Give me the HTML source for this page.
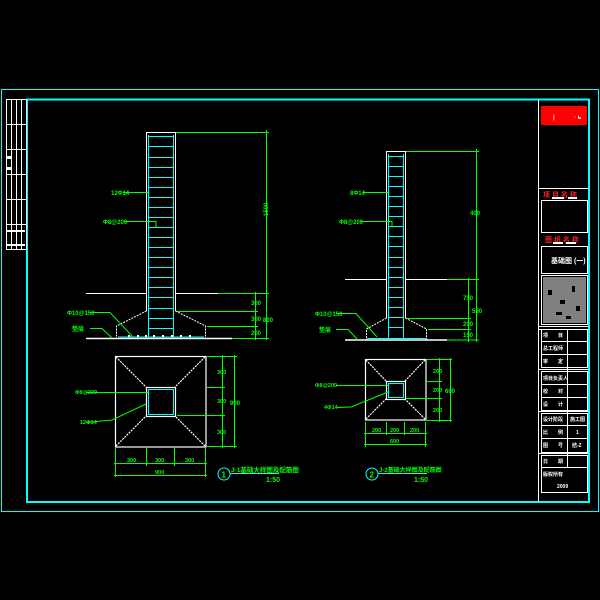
<!DOCTYPE html>
<html><head><meta charset="utf-8"><style>
html,body{margin:0;padding:0;background:#000;width:600px;height:600px;overflow:hidden}
svg{display:block}
text{font-family:"Liberation Sans","Noto Sans CJK SC",sans-serif;font-weight:bold}
</style></head><body>
<svg width="600" height="600" viewBox="0 0 600 600" xmlns="http://www.w3.org/2000/svg">
<rect width="600" height="600" fill="#000"/>
<!-- frames -->
<rect x="1.5" y="89.5" width="597" height="422" fill="none" stroke="#00ffff" stroke-width="1"/>
<rect x="27" y="99.5" width="562" height="402.5" fill="none" stroke="#00ffff" stroke-width="2"/>
<!-- left stamp table -->
<g stroke="#fff" stroke-width="1" fill="none">
<rect x="6.5" y="99.5" width="20" height="150"/>
<line x1="11.5" y1="99.5" x2="11.5" y2="249.5"/><line x1="16.5" y1="99.5" x2="16.5" y2="249.5"/><line x1="21.5" y1="99.5" x2="21.5" y2="249.5"/>
<line x1="6.5" y1="124.5" x2="26.5" y2="124.5"/><line x1="6.5" y1="149.5" x2="26.5" y2="149.5"/><line x1="6.5" y1="174.5" x2="26.5" y2="174.5"/><line x1="6.5" y1="199.5" x2="26.5" y2="199.5"/><line x1="6.5" y1="224.5" x2="26.5" y2="224.5"/>
</g>
<g fill="#fff"><rect x="7" y="156" width="4" height="3"/><rect x="7" y="167" width="4" height="3"/><rect x="7" y="230" width="18" height="2"/><rect x="7" y="244" width="18" height="2"/></g>

<!-- title block -->
<g stroke="#fff" stroke-width="1" fill="none">
<line x1="538.5" y1="99.5" x2="538.5" y2="502"/>
<line x1="538.5" y1="188.5" x2="589" y2="188.5"/>
<rect x="541.5" y="200.5" width="46" height="32"/>
<rect x="541.5" y="246.5" width="46" height="27"/>
<rect x="541.5" y="275.5" width="46" height="49"/>
<line x1="538.5" y1="326.5" x2="589" y2="326.5"/>
<line x1="538.5" y1="329.5" x2="589" y2="329.5"/>
<rect x="541.5" y="329.5" width="46" height="38"/>
<line x1="541.5" y1="341.5" x2="587.5" y2="341.5"/><line x1="541.5" y1="354.5" x2="587.5" y2="354.5"/>
<line x1="538.5" y1="369.5" x2="589" y2="369.5"/>
<rect x="541.5" y="371.5" width="46" height="39"/>
<line x1="541.5" y1="384.5" x2="587.5" y2="384.5"/><line x1="541.5" y1="397.5" x2="587.5" y2="397.5"/>
<line x1="538.5" y1="411.5" x2="589" y2="411.5"/>
<rect x="541.5" y="413.5" width="46" height="39"/>
<line x1="541.5" y1="425.5" x2="587.5" y2="425.5"/><line x1="541.5" y1="438.5" x2="587.5" y2="438.5"/>
<line x1="538.5" y1="453.5" x2="589" y2="453.5"/>
<rect x="541.5" y="455.5" width="46" height="37"/>
<line x1="541.5" y1="467.5" x2="587.5" y2="467.5"/>
<line x1="567.5" y1="329.5" x2="567.5" y2="467.5"/>
</g>
<rect x="541" y="106" width="46" height="19" fill="#ff0000"/>
<g fill="#fff" font-size="6"><text x="553" y="119">|</text><text x="574" y="119">· ь</text></g>
<text x="543" y="197" font-size="7" fill="#ff2020">项 目 名 称</text>
<rect x="552" y="197" width="12" height="2" fill="#fff"/><rect x="568" y="197" width="9" height="2" fill="#fff"/>
<text x="545" y="242" font-size="7" fill="#ff2020">图 纸 名 称</text>
<rect x="553" y="242" width="10" height="2" fill="#fff"/><rect x="566" y="242" width="10" height="2" fill="#fff"/>
<text x="551" y="263" font-size="7" fill="#fff">基础图 (一)</text>
<rect x="543" y="277" width="43" height="46" fill="#808080"/>
<g fill="#000"><rect x="548" y="290" width="4" height="5"/><rect x="560" y="300" width="5" height="4"/><rect x="572" y="286" width="3" height="6"/><rect x="556" y="312" width="6" height="3"/><rect x="576" y="306" width="4" height="5"/><rect x="566" y="316" width="5" height="3"/></g>
<g fill="#fff" font-size="5">
<text x="543" y="337">项　　目</text><text x="543" y="350">总工程师</text><text x="543" y="363">审　　定</text>
<text x="543" y="380">项目负责人</text><text x="543" y="393">校　　对</text><text x="543" y="406">设　　计</text>
<text x="543" y="421">设计阶段</text><text x="543" y="434">比　　例</text><text x="543" y="447">图　　号</text>
<text x="570" y="421">施工图</text><text x="576" y="434">1</text><text x="572" y="447">结-2</text>
<text x="543" y="463">日　　期</text><text x="543" y="476">版权所有</text><text x="557" y="488">2009</text>
</g>

<!-- LEFT ELEVATION -->
<g stroke="#fff" stroke-width="1" fill="none">
<polyline points="146.5,311 146.5,132.5 175.5,132.5 175.5,311"/>
<line x1="86" y1="293.5" x2="146" y2="293.5"/><line x1="176" y1="293.5" x2="218" y2="293.5"/>
<polyline points="146.5,311 116.5,326 116.5,338" stroke-dasharray="2,1"/>
<polyline points="175.5,311 205.5,326 205.5,338" stroke-dasharray="2,1"/>
<line x1="86" y1="338.5" x2="232" y2="338.5" stroke-width="1.5"/>
</g>
<g stroke="#00ffff" stroke-width="1" fill="none">
<line x1="148.5" y1="135" x2="148.5" y2="337"/><line x1="173.5" y1="135" x2="173.5" y2="337"/>
<line x1="118" y1="337" x2="204" y2="337"/>
</g>
<g stroke="#00ffff" stroke-width="1">
<line x1="149" y1="136.5" x2="173" y2="136.5"/><line x1="149" y1="146.5" x2="173" y2="146.5"/><line x1="149" y1="157.5" x2="173" y2="157.5"/><line x1="149" y1="167.5" x2="173" y2="167.5"/><line x1="149" y1="177.5" x2="173" y2="177.5"/><line x1="149" y1="187.5" x2="173" y2="187.5"/><line x1="149" y1="197.5" x2="173" y2="197.5"/><line x1="149" y1="207.5" x2="173" y2="207.5"/><line x1="149" y1="217.5" x2="173" y2="217.5"/><line x1="149" y1="227.5" x2="173" y2="227.5"/><line x1="149" y1="237.5" x2="173" y2="237.5"/><line x1="149" y1="247.5" x2="173" y2="247.5"/><line x1="149" y1="257.5" x2="173" y2="257.5"/><line x1="149" y1="267.5" x2="173" y2="267.5"/><line x1="149" y1="277.5" x2="173" y2="277.5"/><line x1="149" y1="287.5" x2="173" y2="287.5"/><line x1="149" y1="297.5" x2="173" y2="297.5"/><line x1="149" y1="308.5" x2="173" y2="308.5"/><line x1="149" y1="318.5" x2="173" y2="318.5"/><line x1="149" y1="328.5" x2="173" y2="328.5"/>
</g>
<g fill="#fff"><rect x="128" y="335" width="2" height="2"/><rect x="137" y="335" width="2" height="2"/><rect x="145" y="335" width="2" height="2"/><rect x="153" y="335" width="2" height="2"/><rect x="162" y="335" width="2" height="2"/><rect x="171" y="335" width="2" height="2"/><rect x="180" y="335" width="2" height="2"/><rect x="189" y="335" width="2" height="2"/></g>
<g stroke="#00ff00" stroke-width="1" fill="none">
<line x1="176" y1="132.5" x2="269" y2="132.5"/><line x1="218" y1="293.5" x2="269" y2="293.5"/>
<line x1="177" y1="311.5" x2="258" y2="311.5"/><line x1="207" y1="326.5" x2="258" y2="326.5"/>
<line x1="232" y1="338.5" x2="269" y2="338.5"/>
<line x1="266.5" y1="130" x2="266.5" y2="340"/><line x1="255.5" y1="292" x2="255.5" y2="340"/>
<line x1="123" y1="192.5" x2="148" y2="192.5"/>
<polyline points="125,221.5 156,221.5 156,227"/>
<polyline points="90,312.5 110,312.5 133,337"/>
<polyline points="90,328.5 102,328.5 112,338"/>
</g>
<g fill="#00ff00" font-size="6">
<text x="111" y="195">12Φ14</text><text x="103" y="224">Φ8@200</text>
<text x="67" y="315">Φ10@150</text><text x="72" y="331">垫层</text>
<text x="262" y="216" transform="rotate(-90 265 213)">1500</text>
<text x="251" y="305">300</text><text x="251" y="321">300</text><text x="251" y="335">200</text>
<text x="263" y="322">800</text>
</g>

<!-- RIGHT ELEVATION -->
<g stroke="#fff" stroke-width="1" fill="none">
<polyline points="386.5,318 386.5,151.5 405.5,151.5 405.5,318"/>
<line x1="345" y1="279.5" x2="386" y2="279.5"/><line x1="406" y1="279.5" x2="447" y2="279.5"/>
<polyline points="386.5,318 366.5,329 366.5,340" stroke-dasharray="2,1"/>
<polyline points="405.5,318 426.5,329 426.5,340" stroke-dasharray="2,1"/>
<line x1="345" y1="340" x2="447" y2="340" stroke-width="1.5"/>
</g>
<g stroke="#00ffff" stroke-width="1">
<line x1="388.5" y1="154" x2="388.5" y2="339"/><line x1="403.5" y1="154" x2="403.5" y2="339"/>
<line x1="367" y1="338.5" x2="426" y2="338.5"/>
<line x1="389" y1="156.5" x2="403" y2="156.5"/><line x1="389" y1="166.5" x2="403" y2="166.5"/><line x1="389" y1="176.5" x2="403" y2="176.5"/><line x1="389" y1="186.5" x2="403" y2="186.5"/><line x1="389" y1="196.5" x2="403" y2="196.5"/><line x1="389" y1="206.5" x2="403" y2="206.5"/><line x1="389" y1="216.5" x2="403" y2="216.5"/><line x1="389" y1="226.5" x2="403" y2="226.5"/><line x1="389" y1="236.5" x2="403" y2="236.5"/><line x1="389" y1="246.5" x2="403" y2="246.5"/><line x1="389" y1="257.5" x2="403" y2="257.5"/><line x1="389" y1="267.5" x2="403" y2="267.5"/><line x1="389" y1="277.5" x2="403" y2="277.5"/><line x1="389" y1="287.5" x2="403" y2="287.5"/><line x1="389" y1="297.5" x2="403" y2="297.5"/><line x1="389" y1="307.5" x2="403" y2="307.5"/><line x1="389" y1="317.5" x2="403" y2="317.5"/><line x1="389" y1="327.5" x2="403" y2="327.5"/>
</g>
<g stroke="#00ff00" stroke-width="1" fill="none">
<line x1="406" y1="151.5" x2="479" y2="151.5"/><line x1="447" y1="279.5" x2="479" y2="279.5"/>
<line x1="407" y1="318.5" x2="471" y2="318.5"/><line x1="428" y1="329.5" x2="471" y2="329.5"/>
<line x1="447" y1="340" x2="479" y2="340"/>
<line x1="476.5" y1="149" x2="476.5" y2="342"/><line x1="468.5" y1="278" x2="468.5" y2="342"/>
<line x1="363" y1="192.5" x2="388" y2="192.5"/>
<polyline points="361,221.5 392,221.5 392,227"/>
<polyline points="336,313.5 356,313.5 377,337"/>
<polyline points="336,329.5 348,329.5 358,340"/>
</g>
<g fill="#00ff00" font-size="6">
<text x="350" y="195">8Φ14</text><text x="339" y="224">Φ8@200</text>
<text x="315" y="316">Φ10@150</text><text x="319" y="332">垫层</text>
<text x="470" y="215">400</text><text x="463" y="300">750</text>
<text x="463" y="326">200</text><text x="463" y="337">150</text><text x="472" y="313">550</text>
</g>

<!-- LEFT PLAN -->
<g stroke="#fff" stroke-width="1.2" fill="none">
<rect x="115.5" y="356.5" width="90.5" height="90.5"/>
<rect x="146.5" y="387.5" width="29" height="29"/>
<line x1="116" y1="357" x2="146" y2="387" stroke-dasharray="2,1"/><line x1="205" y1="357" x2="175" y2="387" stroke-dasharray="2,1"/>
<line x1="116" y1="446" x2="146" y2="416" stroke-dasharray="2,1"/><line x1="205" y1="446" x2="175" y2="416" stroke-dasharray="2,1"/>
</g>
<rect x="148.5" y="389.5" width="25" height="25" fill="none" stroke="#00ffff" stroke-width="1"/>
<g stroke="#00ff00" stroke-width="1" fill="none">
<line x1="207" y1="356.5" x2="237" y2="356.5"/><line x1="207" y1="387.5" x2="225" y2="387.5"/><line x1="177" y1="415.5" x2="225" y2="415.5"/><line x1="207" y1="446.5" x2="237" y2="446.5"/>
<line x1="222.5" y1="355" x2="222.5" y2="448"/><line x1="234.5" y1="355" x2="234.5" y2="448"/>
<line x1="115.5" y1="448" x2="115.5" y2="477"/><line x1="146.5" y1="448" x2="146.5" y2="466"/><line x1="174.5" y1="448" x2="174.5" y2="466"/><line x1="205.5" y1="448" x2="205.5" y2="477"/>
<line x1="114" y1="463.5" x2="207" y2="463.5"/><line x1="114" y1="475.5" x2="207" y2="475.5"/>
<line x1="86" y1="392.5" x2="148" y2="392.5"/>
<polyline points="86,422.5 112,420 146,404"/>
</g>
<g fill="#00ff00" font-size="5.5">
<text x="75" y="394">Φ8@200</text><text x="80" y="424">12Φ14</text>
<text x="217" y="374">300</text><text x="217" y="403">300</text><text x="217" y="434">300</text>
<text x="230" y="405" font-size="6">900</text>
<text x="127" y="462">300</text><text x="155" y="462">300</text><text x="185" y="462">300</text>
<text x="155" y="474">900</text>
</g>
<circle cx="224" cy="474" r="6" fill="none" stroke="#00ffff" stroke-width="1"/>
<text x="221.5" y="477.5" font-size="8" fill="#00ff00" font-weight="normal">1</text>
<text x="231" y="472" font-size="6.5" fill="#00ff00">J-1基础大样图及配筋图</text>
<line x1="230" y1="473.5" x2="279" y2="473.5" stroke="#00ffff" stroke-width="1"/>
<text x="266" y="482" font-size="7" fill="#00ff00">1:50</text>

<!-- RIGHT PLAN -->
<g stroke="#fff" stroke-width="1.2" fill="none">
<rect x="365.5" y="359.5" width="60.5" height="60.5"/>
<rect x="386.5" y="381.5" width="19" height="18"/>
<line x1="366" y1="360" x2="386" y2="381" stroke-dasharray="2,1"/><line x1="425" y1="360" x2="405" y2="381" stroke-dasharray="2,1"/>
<line x1="366" y1="419" x2="386" y2="399" stroke-dasharray="2,1"/><line x1="425" y1="419" x2="405" y2="399" stroke-dasharray="2,1"/>
</g>
<rect x="388.5" y="383.5" width="15" height="14" fill="none" stroke="#00ffff" stroke-width="1"/>
<g stroke="#00ff00" stroke-width="1" fill="none">
<line x1="427" y1="359.5" x2="452" y2="359.5"/><line x1="427" y1="381.5" x2="442" y2="381.5"/><line x1="406" y1="398.5" x2="442" y2="398.5"/><line x1="427" y1="420.5" x2="452" y2="420.5"/>
<line x1="439.5" y1="358" x2="439.5" y2="422"/><line x1="450.5" y1="358" x2="450.5" y2="422"/>
<line x1="365.5" y1="422" x2="365.5" y2="447"/><line x1="386.5" y1="422" x2="386.5" y2="435"/><line x1="404.5" y1="422" x2="404.5" y2="435"/><line x1="425.5" y1="422" x2="425.5" y2="447"/>
<line x1="364" y1="433.5" x2="427" y2="433.5"/><line x1="364" y1="444.5" x2="427" y2="444.5"/>
<line x1="336" y1="385.5" x2="388" y2="385.5"/>
<polyline points="337,407.5 351,407 388,392"/>
</g>
<g fill="#00ff00" font-size="5.5">
<text x="315" y="387">Φ8@200</text><text x="324" y="409">4Φ14</text>
<text x="433" y="373">200</text><text x="433" y="392">200</text><text x="433" y="412">200</text>
<text x="445" y="393" font-size="6">600</text>
<text x="372" y="432">200</text><text x="390" y="432">200</text><text x="410" y="432">200</text>
<text x="390" y="443">600</text>
</g>
<circle cx="372" cy="474" r="6" fill="none" stroke="#00ffff" stroke-width="1"/>
<text x="369.5" y="477.5" font-size="8" fill="#00ff00" font-weight="normal">2</text>
<text x="379" y="472" font-size="6" fill="#00ff00">J-2基础大样图及配筋图</text>
<line x1="378" y1="473.5" x2="427" y2="473.5" stroke="#00ffff" stroke-width="1"/>
<text x="414" y="482" font-size="7" fill="#00ff00">1:50</text>
</svg>
</body></html>
